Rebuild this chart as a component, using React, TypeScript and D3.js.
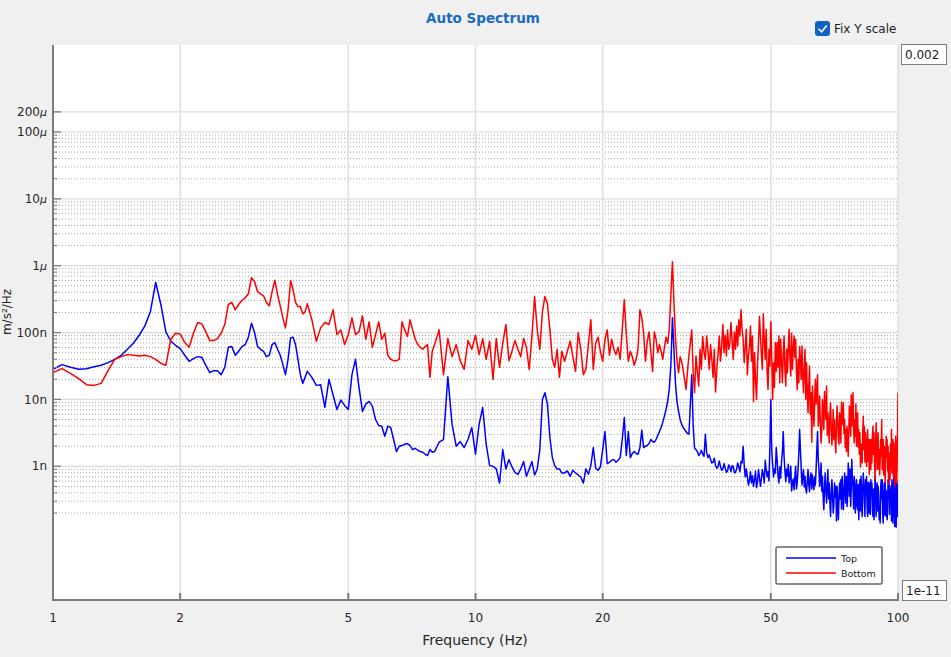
import React, { useEffect } from 'react';
import * as d3 from 'd3';

// Frequency bins (Hz): [start, end, step] per band of the spectrum
const binSegments: [number, number, number][] = [
  [1.0, 2.0, 0.05],
  [2.05, 4.0, 0.05],
  [4.1, 8.0, 0.1],
  [8.2, 16.0, 0.2],
  [16.25, 32.0, 0.25],
  [32.5, 64.0, 0.25],
  [64.5, 100.0, 0.25],
];

// PSD levels in dB re 1 (m/s²)²/Hz, per band — "Top" sensor
const topA = [-75.5, -74.8, -75.2, -75.5, -75.4, -75.1, -74.9, -74.5, -74.0, -73.4, -72.5, -71.6, -70.4, -69.0, -66.9, -62.5, -65.8, -69.9, -71.3, -71.9, -72.4];
const topB = [-73.4, -74.3, -73.9, -73.6, -73.7, -74.9, -76.0, -75.7, -75.7, -76.3, -75.2, -72.2, -72.1, -73.4, -72.8, -72.1, -71.8, -70.7, -68.6, -70.0, -72.1, -72.5, -72.8, -73.6, -73.4, -71.8, -71.5, -72.5, -73.4, -74.8, -76.3, -74.0, -70.8, -70.7, -71.8, -74.0, -76.3, -77.6, -76.7, -75.8];
const topC = [-76.7, -77.9, -77.8, -81.2, -77.0, -79.3, -81.5, -80.1, -80.9, -81.5, -76.3, -74.0, -78.2, -81.8, -80.7, -80.3, -81.0, -83.0, -83.9, -84.0, -85.5, -84.0, -84.2, -86.0, -87.8, -87.0, -86.9, -86.7, -86.6, -86.9, -87.5, -87.3, -87.6, -87.8, -87.9, -88.2, -88.4, -87.5, -87.9, -87.8];
const topD = [-86.4, -86.0, -76.6, -83.7, -87.0, -86.3, -87.2, -86.0, -84.2, -88.2, -83.7, -81.2, -86.7, -89.9, -90.0, -90.4, -92.5, -87.5, -90.4, -89.0, -90.1, -90.9, -91.2, -90.4, -89.3, -91.5, -90.4, -89.3, -91.3, -90.4, -87.5, -80.0, -79.0, -80.7, -85.7, -88.7, -89.9, -90.4, -90.4, -91.0];
const topE = [-91.0, -90.7, -91.5, -90.6, -91.0, -91.3, -91.6, -92.5, -90.4, -91.2, -89.9, -87.2, -90.3, -90.6, -90.1, -87.5, -84.8, -89.6, -89.4, -89.1, -89.0, -89.4, -89.1, -88.7, -86.0, -82.7, -88.4, -84.8, -88.7, -88.1, -87.8, -88.1, -88.2, -87.2, -84.6, -87.2, -87.0, -86.9, -86.6, -86.0, -86.3, -86.4, -86.0, -85.4, -84.8, -84.2, -83.4, -82.5, -81.5, -80.3, -78.5, -74.8, -67.8, -72.8, -77.8, -80.4, -81.8, -83.0, -83.7, -84.2, -84.5, -84.8, -85.1, -85.2];
// band F/G: values on the whole-half-Hz bins, then the quarter-Hz bins in between
const topF = [-76.3, -87.3, -87.8, -88.1, -88.2, -85.2, -88.7, -89.0, -89.4, -89.9, -90.1, -90.0, -90.4, -90.3, -90.7, -90.1, -89.9, -91.0, -90.4, -90.1, -89.3, -87.0, -91.6, -91.5, -92.2, -92.5, -93.0, -90.7, -92.4, -91.6, -91.9, -91.3, -89.1, -91.6, -92.2, -80.0, -89.7, -90.4, -87.2, -91.3, -90.1, -89.3, -84.8, -90.7, -90.4, -89.7, -91.6, -93.7, -91.9, -91.6, -93.4, -90.4, -84.5, -90.1, -91.6, -93.1, -93.4, -92.2, -92.8, -91.6, -93.4, -92.5, -91.6, -90.4];
const topFMid = [-84.0, -87.5, -88.4, -87.6, -88.5, -88.0, -88.3, -89.5, -88.8, -90.3, -89.2, -90.6, -89.6, -90.9, -89.8, -90.8, -90.0, -90.9, -89.5, -90.8, -89.5, -89.8, -90.4, -92.8, -90.8, -91.4, -92.0, -93.2, -90.5, -93.0, -90.5, -92.5, -90.5, -90.8, -87.0, -87.5, -91.6, -91.0, -89.0, -92.5, -91.8, -88.0, -88.5, -92.3, -91.5, -92.5, -90.0, -92.5, -93.5, -90.0, -92.4, -88.0, -87.5, -92.8, -90.5, -91.5, -94.0, -90.5, -93.8, -91.0, -91.3, -93.5, -92.8];
const topG = [-84.8, -90.4, -91.9, -93.7, -94.5, -93.1, -93.7, -92.8, -94.9, -95.5, -94.2, -94.5, -95.7, -94.6, -98.2, -95.7, -94.6, -94.9, -96.4, -93.4, -94.9, -92.7, -91.5, -94.2, -91.6, -90.4, -93.4, -91.9, -96.4, -92.5, -94.9, -95.8, -92.7, -94.5, -96.7, -93.4, -95.2, -92.7, -97.5, -94.2, -96.1, -92.4, -94.9, -97.2, -94.2, -96.4, -93.4, -95.2, -93.0, -95.7, -96.7, -94.3, -96.1, -93.1, -94.9, -97.2, -94.6, -97.3, -94.9, -93.7, -96.4, -94.5, -97.2, -95.5, -98.2, -94.9, -93.4, -96.1, -94.2, -99.1, -94.9, -92.5];
const topGMid = [-89.0, -93.0, -89.5, -91.5, -96.5, -91.0, -95.5, -90.5, -92.5, -97.5, -92.0, -97.0, -92.5, -93.0, -93.0, -98.0, -92.5, -92.0, -91.5, -96.5, -91.0, -95.5, -96.0, -89.5, -94.5, -96.0, -89.0, -93.0, -91.5, -97.0, -92.0, -96.5, -98.0, -92.0, -91.5, -97.5, -91.0, -94.0, -92.0, -91.5, -97.5, -97.0, -92.5, -92.0, -92.5, -97.5, -98.0, -91.5, -97.5, -92.5, -93.0, -98.0, -98.5, -92.0, -92.0, -98.5, -92.5, -92.5, -97.5, -98.0, -92.0, -92.0, -93.5, -93.0, -92.0, -98.5, -91.5, -99.0, -92.0, -92.0, -97.5];

// "Bottom" sensor
const bottomA = [-76.0, -75.4, -76.1, -76.9, -77.8, -77.9, -77.6, -75.7, -74.0, -73.6, -73.3, -73.4, -73.5, -73.4, -73.6, -74.0, -74.6, -74.9, -71.0, -70.1, -70.2];
const bottomB = [-71.5, -72.2, -70.1, -68.5, -68.7, -69.9, -71.2, -71.2, -70.9, -70.1, -68.8, -65.8, -65.5, -66.6, -65.8, -65.2, -64.8, -64.2, -61.8, -62.4, -63.9, -64.2, -64.5, -65.5, -66.0, -63.9, -62.2, -64.3, -66.0, -67.8, -69.3, -66.6, -62.2, -63.6, -65.5, -66.1, -66.1, -67.2, -66.9, -65.7];
const bottomC = [-68.1, -71.3, -69.3, -68.5, -68.8, -66.6, -70.3, -69.6, -71.8, -70.3, -67.8, -70.3, -69.9, -67.5, -71.0, -68.4, -72.2, -70.3, -68.4, -71.0, -70.1, -73.4, -74.0, -74.2, -74.2, -74.0, -68.4, -69.6, -70.6, -68.1, -69.6, -71.0, -71.8, -72.2, -72.5, -72.1, -71.8, -76.7, -72.8, -71.8];
const bottomD = [-69.6, -76.3, -70.9, -73.6, -71.8, -74.2, -75.5, -71.2, -72.5, -70.4, -73.3, -70.9, -74.0, -71.3, -77.0, -70.9, -75.2, -71.6, -68.8, -74.2, -72.8, -71.2, -72.5, -73.6, -70.9, -72.2, -75.5, -70.6, -64.6, -69.6, -72.5, -66.9, -64.6, -65.7, -69.6, -74.0, -75.2, -72.5, -76.7, -72.8];
const bottomE = [-74.3, -72.8, -71.3, -73.6, -75.8, -70.0, -72.5, -76.3, -75.5, -71.8, -68.1, -75.5, -71.6, -70.7, -72.8, -74.3, -71.0, -69.6, -73.4, -71.0, -72.5, -73.3, -72.2, -74.0, -69.6, -65.1, -70.3, -74.3, -72.8, -73.6, -74.9, -74.0, -72.5, -66.6, -67.8, -70.1, -74.3, -71.3, -69.9, -72.8, -75.8, -69.9, -71.0, -73.0, -71.8, -72.8, -74.0, -72.2, -70.7, -71.6, -69.6, -64.3, -59.4, -65.7, -71.0, -74.3, -76.0, -73.6, -74.3, -75.5, -77.0, -78.5, -75.8, -73.4];
const bottomF = [-69.6, -79.0, -75.8, -72.5, -70.6, -74.0, -72.8, -71.8, -76.7, -78.9, -73.3, -74.3, -68.8, -70.4, -69.6, -71.6, -71.3, -69.9, -69.0, -68.1, -66.6, -71.0, -72.2, -76.3, -72.2, -74.3, -80.3, -77.0, -74.8, -67.6, -73.3, -67.2, -74.0, -75.8, -72.5, -68.4, -80.0, -78.2, -75.8, -75.2, -77.5, -74.0, -73.3, -75.5, -72.5, -72.2, -74.0, -70.1, -72.5, -73.7, -76.0, -74.0, -72.1, -77.0, -76.3, -75.2, -80.0, -78.8, -77.9, -82.2, -86.4, -81.5, -80.0, -80.7];
const bottomFMid = [-76.0, -73.5, -78.0, -75.5, -73.0, -70.5, -75.5, -74.0, -72.5, -75.5, -70.5, -72.0, -73.0, -73.5, -72.5, -68.5, -74.0, -72.5, -72.0, -70.5, -69.5, -74.5, -69.5, -73.5, -69.0, -70.5, -73.0, -80.0, -71.5, -70.5, -75.5, -71.0, -69.5, -78.5, -75.0, -73.5, -74.5, -71.5, -71.5, -70.5, -71.0, -77.5, -70.5, -78.0, -76.0, -69.5, -76.5, -75.5, -70.5, -71.0, -78.5, -77.5, -74.0, -72.0, -79.0, -72.5, -74.5, -82.0, -75.0, -79.0, -78.0, -84.0, -77.0];
const bottomG = [-76.3, -82.7, -83.7, -84.8, -82.2, -78.8, -83.0, -85.4, -83.7, -82.2, -84.2, -84.8, -86.0, -86.4, -83.7, -83.0, -86.7, -83.0, -80.4, -83.7, -85.1, -87.2, -87.8, -86.0, -84.5, -82.2, -79.3, -81.5, -84.2, -83.0, -80.7, -84.5, -87.2, -88.2, -90.1, -86.7, -85.1, -87.5, -89.4, -87.5, -86.4, -89.3, -91.2, -88.2, -86.0, -85.5, -88.2, -89.6, -87.2, -86.0, -87.8, -90.4, -91.3, -86.0, -83.0, -87.5, -91.3, -89.3, -88.2, -88.7, -90.7, -92.7, -90.4, -86.7, -84.5, -88.2, -91.6, -89.3, -91.2, -87.5, -90.4, -79.0];
const bottomGMid = [-84.0, -79.5, -86.5, -80.0, -84.5, -81.0, -78.0, -82.0, -86.5, -80.5, -86.8, -81.5, -83.0, -88.0, -81.0, -86.0, -82.0, -86.5, -83.0, -80.5, -83.0, -84.5, -84.0, -88.5, -81.0, -85.5, -84.0, -79.0, -86.5, -85.5, -87.0, -82.0, -84.5, -85.0, -87.0, -89.5, -82.5, -84.0, -85.0, -90.0, -84.5, -86.0, -86.0, -90.5, -89.5, -84.0, -85.0, -92.0, -83.5, -90.5, -85.0, -87.5, -89.0, -88.5, -90.5, -86.0, -87.0, -92.5, -85.5, -86.0, -87.0, -88.0, -92.0, -90.0, -91.0, -86.0, -86.5, -93.0, -85.5, -92.5, -85.0];

const seriesNames = ['Top', 'Bottom'];
const seriesColors = ['#0000ff', '#ff0000'];

const xTickValues = [1, 2, 5, 10, 20, 50, 100];
const xGridValues = [2, 5, 10, 20, 50, 100];
const yMajorValues = [2e-4, 1e-4, 1e-5, 1e-6, 1e-7, 1e-8, 1e-9];
const yTickNumbers = ['200', '100', '10', '1', '100', '10', '1'];
const yTickUnits = ['μ', 'μ', 'μ', 'μ', 'n', 'n', 'n'];
const yMinorDecades = [-10, -9, -8, -7, -6, -5];
const yMinorMultipliers = [2, 3, 4, 5, 6, 7, 8, 9];

const yMin = 1e-11;
const yMax = 0.002;

const W = 951;
const H = 657;
const M = { left: 53, right: 898, top: 45, bottom: 600 };
const FONT = '"DejaVu Sans", Verdana, sans-serif';

const interleave = (a: number[], b: number[]) =>
  a.flatMap((v, i) => (i < b.length ? [v, b[i]] : [v]));

const freqs: number[] = binSegments.flatMap(([start, end, step]) => {
  const n = Math.round((end - start) / step);
  return d3.range(n + 1).map((i) => +(start + i * step).toFixed(2));
});
const topDb = [...topA, ...topB, ...topC, ...topD, ...topE, ...interleave(topF, topFMid), ...interleave(topG, topGMid)];
const bottomDb = [...bottomA, ...bottomB, ...bottomC, ...bottomD, ...bottomE, ...interleave(bottomF, bottomFMid), ...interleave(bottomG, bottomGMid)];
const dbToPsd = (db: number) => Math.pow(10, db / 10);

export default function App() {
  useEffect(() => {
    document.body.style.margin = '0';
    document.body.style.background = '#f0f0f0';
  }, []);

  const x = d3.scaleLog().domain([1, 100]).range([M.left, M.right]);
  const y = d3.scaleLog().domain([yMin, yMax]).range([M.bottom, M.top]);

  const line = d3
    .line<[number, number]>()
    .x((d) => x(d[0]))
    .y((d) => y(d[1]));

  const n = Math.min(freqs.length, topDb.length, bottomDb.length);
  const seriesData = [topDb, bottomDb].map((arr) =>
    freqs.slice(0, n).map((f, i) => [f, dbToPsd(arr[i])] as [number, number])
  );

  const minorValues = yMinorDecades.flatMap((e) => yMinorMultipliers.map((k) => k * Math.pow(10, e)));

  return (
    <div style={{ position: 'fixed', left: 0, top: 0, width: W, height: H, background: '#f0f0f0' }}>
      <svg width={W} height={H} style={{ display: 'block' }}>
        <rect x={0} y={0} width={W} height={H} fill="#f0f0f0" />
        <defs>
          <clipPath id="plotClip">
            <rect x={M.left} y={M.top} width={M.right - M.left} height={M.bottom - M.top} />
          </clipPath>
        </defs>
        {/* title */}
        <text x={483} y={23} textAnchor="middle" fontFamily={FONT} fontWeight="bold" fontSize={13.5} fill="#1a6cc0">
          Auto Spectrum
        </text>
        {/* checkbox */}
        <rect x={815} y={21} width={15} height={15} rx={3} fill="#1061c4" />
        <path d="M818.5 28.8 L821.6 31.8 L826.8 25.4" fill="none" stroke="#ffffff" strokeWidth={1.6} />
        <text x={834} y={33} fontFamily={FONT} fontSize={12} fill="#1e1e1e">
          Fix Y scale
        </text>

        {/* plot area */}
        <rect x={M.left} y={M.top} width={M.right - M.left} height={M.bottom - M.top} fill="#ffffff" />

        {/* minor dotted grid */}
        {minorValues.map((v, i) => (
          <line key={'mg' + i} x1={M.left} x2={M.right} y1={y(v)} y2={y(v)} stroke="#a8a8a8" strokeWidth={1} strokeDasharray="1 2" />
        ))}
        {/* major grid */}
        {yMajorValues.map((v, i) => (
          <line key={'yg' + i} x1={M.left} x2={M.right} y1={y(v)} y2={y(v)} stroke="#dcdcdc" strokeWidth={1.2} />
        ))}
        {xGridValues.map((v, i) => (
          <line key={'xg' + i} x1={x(v)} x2={x(v)} y1={M.top} y2={M.bottom} stroke="#e0e0e0" strokeWidth={1.6} />
        ))}

        {/* series */}
        <g clipPath="url(#plotClip)">
          {seriesData.map((d, i) => (
            <path key={seriesNames[i]} d={line(d) || ''} fill="none" stroke={seriesColors[i]} strokeWidth={1.5} strokeLinejoin="round" />
          ))}
        </g>

        {/* axes */}
        <line x1={M.left} x2={M.left} y1={M.top} y2={M.bottom + 1} stroke="#7c7c7c" strokeWidth={2} />
        <line x1={M.left - 1} x2={M.right + 1} y1={M.bottom} y2={M.bottom} stroke="#7c7c7c" strokeWidth={2} />

        {/* y ticks */}
        {yMajorValues.map((v, i) => (
          <g key={'yt' + i}>
            <line x1={M.left} x2={M.left + 8} y1={y(v)} y2={y(v)} stroke="#7c7c7c" strokeWidth={1.3} />
            <text x={47} y={y(v)} dy="0.35em" textAnchor="end" fontFamily={FONT} fontSize={12} fill="#262626">
              {yTickNumbers[i]}
              {yTickUnits[i] === 'μ' ? (
                <tspan fontStyle="italic" fontSize={11}>μ</tspan>
              ) : (
                <tspan>{yTickUnits[i]}</tspan>
              )}
            </text>
          </g>
        ))}
        {minorValues.map((v, i) => (
          <line key={'ymt' + i} x1={M.left} x2={M.left + 4} y1={y(v)} y2={y(v)} stroke="#7c7c7c" strokeWidth={1} />
        ))}

        {/* x ticks */}
        {xTickValues.map((v, i) => (
          <g key={'xt' + i}>
            {v > 1 && <line x1={x(v)} x2={x(v)} y1={M.bottom} y2={M.bottom - 7} stroke="#7c7c7c" strokeWidth={2} />}
            <text x={x(v)} y={622} textAnchor="middle" fontFamily={FONT} fontSize={12} fill="#262626">
              {String(v)}
            </text>
          </g>
        ))}

        {/* axis labels */}
        <text x={475} y={645} textAnchor="middle" fontFamily={FONT} fontSize={14} fill="#262626">
          Frequency (Hz)
        </text>
        <text transform="translate(11,312) rotate(-90)" textAnchor="middle" fontFamily={FONT} fontSize={12} fill="#262626">
          m/s²/Hz
        </text>

        {/* y limit boxes */}
        <rect x={901.5} y={44.5} width={45} height={20} fill="#ffffff" stroke="#7a7a7a" strokeWidth={1} />
        <text x={905} y={59} fontFamily={FONT} fontSize={12} fill="#1e1e1e">0.002</text>
        <rect x={902.5} y={580.5} width={44} height={20} fill="#ffffff" stroke="#7a7a7a" strokeWidth={1} />
        <text x={906} y={595} fontFamily={FONT} fontSize={12} fill="#1e1e1e">1e-11</text>

        {/* legend */}
        <rect x={776} y={547} width={106} height={37} rx={1.5} fill="#ffffff" stroke="#666666" strokeWidth={1.5} />
        {seriesNames.map((name, i) => (
          <g key={'lg' + name}>
            <line x1={786} x2={836} y1={558 + i * 15} y2={558 + i * 15} stroke={seriesColors[i]} strokeWidth={1.5} />
            <text x={841} y={561.5 + i * 15} fontFamily={FONT} fontSize={9.5} fill="#1e1e1e">{name}</text>
          </g>
        ))}
      </svg>
    </div>
  );
}
